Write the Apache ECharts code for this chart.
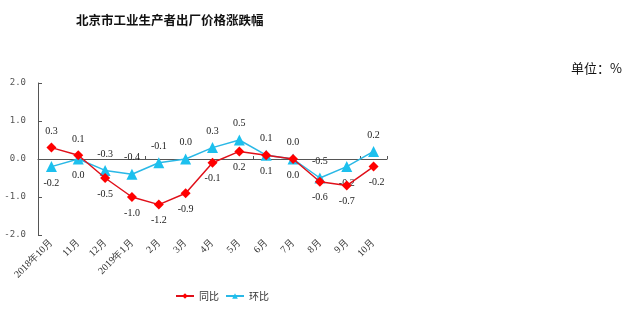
<!DOCTYPE html>
<html><head><meta charset="utf-8">
<script src="https://cdn.jsdelivr.net/npm/echarts@6/dist/echarts.min.js"></script>
<style>html,body{margin:0;padding:0;background:#fff}#c{width:629px;height:313px}</style>
</head><body><div id="c"></div>
<script>
const categories = ['2018年10月','11月','12月','2019年1月','2月','3月','4月','5月','6月','7月','8月','9月','10月'];
const yoy = [0.3, 0.1, -0.5, -1.0, -1.2, -0.9, -0.1, 0.2, 0.1, 0.0, -0.6, -0.7, -0.2];
const mom = [-0.2, 0.0, -0.3, -0.4, -0.1, 0.0, 0.3, 0.5, 0.1, 0.0, -0.5, -0.2, 0.2];
const yTicks = [-2.0, -1.0, 0.0, 1.0, 2.0];
const yoyLabelPos = ['top','top','bottom','bottom','bottom','bottom','bottom','bottom','bottom','bottom','bottom','bottom','bottom'];
const momLabelPos = ['bottom','bottom','top','top','top','top','top','top','top','top','top','bottom','top'];

const chart = echarts.init(document.getElementById('c'));
const lblFont = {fontFamily:'Liberation Serif', fontSize:10, color:'#222'};
chart.setOption({
  animation:false,
  title:[
    {text:'北京市工业生产者出厂价格涨跌幅', left:71, top:9, textStyle:{fontFamily:'Noto Sans CJK SC', fontSize:12.5, fontWeight:'bold', color:'#111'}},
    {text:'单位：%', left:566, top:57, textStyle:{fontFamily:'Noto Sans CJK SC', fontSize:13, fontWeight:'normal', color:'#111'}}
  ],
  legend:{bottom:7, left:170, itemGap:6, itemWidth:18, itemHeight:7,
    textStyle:{fontFamily:'Noto Sans CJK SC', fontSize:10, color:'#333'},
    data:['同比','环比']},
  grid:{left:38, right:242, top:83, bottom:78},
  xAxis:[
    {type:'category', data:categories, boundaryGap:true, position:'bottom',
     axisLine:{show:false, onZero:false}, axisTick:{show:false},
     axisLabel:{rotate:45, interval:0, margin:6, fontFamily:'Liberation Serif', fontSize:10, color:'#333'}},
    {type:'category', data:categories, boundaryGap:true, position:'bottom',
     axisLine:{show:true, onZero:true, lineStyle:{color:'#555', width:1}},
     axisTick:{show:true, inside:true, length:3, lineStyle:{color:'#555'}},
     axisLabel:{show:false}}
  ],
  yAxis:{type:'value', min:-2, max:2, interval:1,
    axisLine:{show:true, lineStyle:{color:'#555'}},
    axisTick:{show:true, inside:true, length:4, lineStyle:{color:'#555'}},
    splitLine:{show:false},
    axisLabel:{margin:12, fontFamily:'DejaVu Sans Mono', fontSize:9, color:'#555', formatter:v=>v.toFixed(1)}},
  series:[
    {name:'同比', type:'line', xAxisIndex:0, symbol:'diamond', symbolSize:10, z:3,
     itemStyle:{color:'#ff0000'}, lineStyle:{color:'#e0101a', width:1.5},
     data:yoy.map((v,i)=>({value:v, label:{show:true, position:yoyLabelPos[i], distance:6, offset:(i===12?[3,0]:[0,0]), formatter:p=>p.value.toFixed(1), ...lblFont}}))},
    {name:'环比', type:'line', xAxisIndex:0, symbol:'triangle', symbolSize:11, z:2,
     itemStyle:{color:'#1cc0ee'}, lineStyle:{color:'#2ab8e6', width:1.5},
     data:mom.map((v,i)=>({value:v, label:{show:true, position:momLabelPos[i], distance:6, formatter:p=>p.value.toFixed(1), ...lblFont}}))}
  ]
});
</script></body></html>
